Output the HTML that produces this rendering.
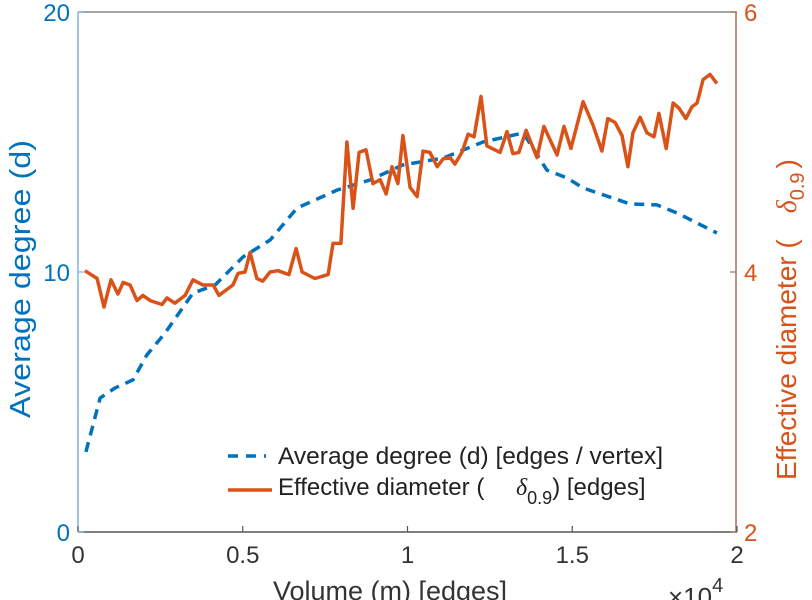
<!DOCTYPE html>
<html><head><meta charset="utf-8"><style>
html,body{margin:0;padding:0;background:#fff;}
svg{display:block;font-family:"Liberation Sans",sans-serif;}
</style></head><body>
<svg id="chart" width="812" height="600" viewBox="0 0 812 600">
<g id="marks"></g>
<line x1="78" y1="12" x2="737" y2="12" stroke="#888" stroke-width="1.5"/>
<line x1="78" y1="532" x2="737" y2="532" stroke="#555" stroke-width="1.5"/>
<line x1="78" y1="12" x2="78" y2="532" stroke="#7fb3dd" stroke-width="1.5"/>
<line x1="736" y1="12" x2="736" y2="532" stroke="#a07060" stroke-width="1.5"/>
<g id="ticks"></g>
<text x="390" y="600" text-anchor="middle" font-size="27" fill="#333">Volume (m) [edges]</text>
<text x="668" y="606" font-size="26" fill="#333">×10<tspan dy="-14" font-size="20">4</tspan></text>
<text transform="translate(30,279) rotate(-90)" text-anchor="middle" font-size="29" textLength="278" lengthAdjust="spacingAndGlyphs" fill="#0072BD">Average degree (d)</text>
<text transform="translate(796,480) rotate(-90)" font-size="28" fill="#D95319">Effective diameter (<tspan dx="26" font-style="italic" font-family="Liberation Serif, serif">δ</tspan><tspan dy="8" font-size="20">0.9</tspan><tspan dy="-8" dx="4">)</tspan></text>
<g>
<line x1="228" y1="456" x2="266" y2="456" stroke="#0072BD" stroke-width="3.5" stroke-dasharray="10,8"/>
<text x="278" y="464" font-size="24" textLength="385" lengthAdjust="spacingAndGlyphs" fill="#222">Average degree (d) [edges / vertex]</text>
<line x1="228" y1="490" x2="272" y2="490" stroke="#D95319" stroke-width="3.5"/>
<text x="278" y="495" font-size="24" fill="#222">Effective diameter (<tspan x="516" font-style="italic" font-family="Liberation Serif, serif">δ</tspan><tspan dy="9" font-size="18">0.9</tspan><tspan dy="-9">) [edges]</tspan></text>
</g>
</svg>
<script>
const xTicks = [0, 0.5, 1, 1.5, 2];
const xTickLabels = ["0", "0.5", "1", "1.5", "2"];
const leftTicks = [0, 10, 20];
const rightTicks = [2, 4, 6];
const degX = [0.024,0.067,0.112,0.167,0.209,0.264,0.349,0.416,0.501,0.583,0.665,0.786,0.886,0.986,1.108,1.229,1.351,1.423,1.484,1.533,1.675,1.757,1.818,1.879,1.939];
const degY = [3.08,5.15,5.54,5.85,6.81,7.65,9.19,9.50,10.58,11.23,12.46,13.15,13.54,14.12,14.38,15.0,15.35,13.92,13.62,13.23,12.62,12.58,12.27,11.88,11.5];
const diaX = [0.021,0.058,0.079,0.100,0.121,0.137,0.158,0.179,0.197,0.219,0.255,0.270,0.294,0.325,0.349,0.379,0.410,0.428,0.470,0.486,0.507,0.522,0.543,0.561,0.583,0.607,0.640,0.662,0.680,0.719,0.759,0.774,0.798,0.816,0.835,0.853,0.874,0.895,0.917,0.935,0.953,0.971,0.986,1.008,1.029,1.047,1.068,1.090,1.108,1.129,1.144,1.165,1.184,1.202,1.223,1.241,1.281,1.302,1.320,1.338,1.360,1.393,1.414,1.454,1.475,1.496,1.533,1.563,1.590,1.608,1.630,1.651,1.669,1.684,1.706,1.727,1.748,1.763,1.785,1.806,1.824,1.845,1.863,1.879,1.897,1.918,1.939];
const diaY = [4.01,3.95,3.73,3.94,3.83,3.92,3.90,3.78,3.82,3.78,3.75,3.80,3.76,3.82,3.94,3.90,3.90,3.82,3.90,3.99,4.00,4.15,3.95,3.93,4.00,4.01,3.98,4.18,4.00,3.95,3.98,4.22,4.22,5.00,4.49,4.92,4.94,4.68,4.71,4.60,4.81,4.68,5.05,4.65,4.58,4.93,4.92,4.81,4.87,4.88,4.83,4.92,5.06,5.04,5.35,4.97,4.92,5.08,4.91,4.92,5.09,4.88,5.12,4.90,5.12,4.95,5.31,5.13,4.93,5.18,5.15,5.05,4.81,5.07,5.19,5.07,5.04,5.22,4.95,5.30,5.26,5.18,5.27,5.30,5.48,5.52,5.45];

const X0=78, X1=737, Y0=532, Y1=12;
const sx = v => X0 + (v - 0) / 2 * (X1 - X0);
const syL = v => Y0 - v / 20 * (Y0 - Y1);
const syR = v => Y0 - (v - 2) / 4 * (Y0 - Y1);
const NS = "http://www.w3.org/2000/svg";
const marks = document.getElementById('marks');
const ticks = document.getElementById('ticks');
function mk(tag, attrs, parent){const e=document.createElementNS(NS,tag);for(const k in attrs)e.setAttribute(k,attrs[k]);parent.appendChild(e);return e;}

const dPath = degX.map((x,i)=>(i?'L':'M')+sx(x).toFixed(1)+','+syL(degY[i]).toFixed(1)).join(' ');
const degLine = mk('path',{d:dPath,fill:'none',stroke:'#0072BD','stroke-width':3.5,'stroke-dasharray':'10,7'},marks);


const rPath = diaX.map((x,i)=>(i?'L':'M')+sx(x).toFixed(1)+','+syR(diaY[i]).toFixed(1)).join(' ');
const diaLine = mk('path',{d:rPath,fill:'none',stroke:'#D95319','stroke-width':3.5,'stroke-linejoin':'round'},marks);



xTicks.forEach((v,i)=>{
  const x=sx(v);
  const t=mk('line',{x1:x,y1:Y0,x2:x,y2:Y0-6,stroke:'#555','stroke-width':1.2},ticks);
  
  
  const l=mk('text',{x:x,y:563,'text-anchor':'middle','font-size':24,fill:'#333'},ticks);
  l.textContent=xTickLabels[i];
  
  
});
leftTicks.forEach(v=>{
  const y=syL(v);
  const t=mk('line',{x1:X0,y1:y,x2:X0+6,y2:y,stroke:'#7fb3dd','stroke-width':1.2},ticks);
  
  
  const l=mk('text',{x:X0-8,y:y+9,'text-anchor':'end','font-size':24,fill:'#0072BD'},ticks);
  l.textContent=String(v);
  
  
});
rightTicks.forEach(v=>{
  const y=syR(v);
  const t=mk('line',{x1:736,y1:y,x2:730,y2:y,stroke:'#a07060','stroke-width':1.2},ticks);
  
  
  const l=mk('text',{x:744,y:y+9,'font-size':24,fill:'#D95319'},ticks);
  l.textContent=String(v);
  
  
});
</script>
</body></html>
